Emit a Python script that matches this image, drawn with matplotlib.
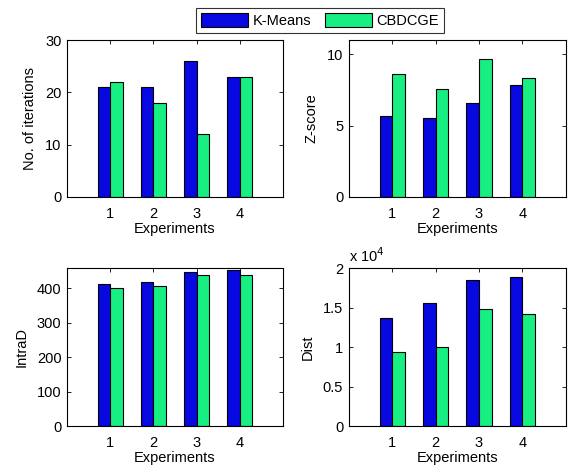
#!/usr/bin/env python3
import matplotlib
matplotlib.use("Agg")
import matplotlib.pyplot as plt
import numpy as np
from matplotlib.ticker import FuncFormatter

experiments = [1, 2, 3, 4]

iter_kmeans = [21, 21, 26, 23]
iter_cbdcge = [22, 18, 12, 23]

zscore_kmeans = [5.7, 5.55, 6.6, 7.85]
zscore_cbdcge = [8.6, 7.55, 9.7, 8.35]

intrad_kmeans = [411, 417, 446, 454]
intrad_cbdcge = [400, 406, 437, 437]

dist_kmeans = [13740, 15530, 18470, 18850]
dist_cbdcge = [9320, 10040, 14770, 14170]

BLUE = "#0808e0"
GREEN = "#18ef82"
FS = 10.5

plt.rcParams["font.family"] = ["Liberation Sans", "DejaVu Sans"]
plt.rcParams["font.size"] = FS


def bar_panel(ax, a, b, ylabel, ylim, yticks):
    x = np.array(experiments, dtype=float)
    w = 0.29
    h1 = ax.bar(x - w / 2, a, w, color=BLUE, edgecolor="black", linewidth=0.8)
    h2 = ax.bar(x + w / 2, b, w, color=GREEN, edgecolor="black", linewidth=0.8)
    ax.set_xlim(0, 5)
    ax.set_ylim(*ylim)
    ax.set_xticks(experiments)
    ax.set_yticks(yticks)
    ax.tick_params(direction="in", top=True, right=True, length=3, width=0.6,
                   labelsize=FS)
    ax.tick_params(axis="x", pad=7)
    ax.tick_params(axis="y", pad=4)
    for s in ax.spines.values():
        s.set_linewidth(0.8)
    ax.set_xlabel("Experiments", labelpad=1)
    ax.set_ylabel(ylabel, labelpad=6)
    return h1, h2


fig = plt.figure(figsize=(5.68, 4.71), dpi=100)
ax1 = fig.add_axes([0.118, 0.582, 0.380, 0.333])
ax2 = fig.add_axes([0.614, 0.582, 0.382, 0.333])
ax3 = fig.add_axes([0.118, 0.0955, 0.380, 0.335])
ax4 = fig.add_axes([0.614, 0.0955, 0.382, 0.335])

h1, h2 = bar_panel(ax1, iter_kmeans, iter_cbdcge, "No. of iterations", (0, 30), [0, 10, 20, 30])
bar_panel(ax2, zscore_kmeans, zscore_cbdcge, "Z-score", (0, 11), [0, 5, 10])
bar_panel(ax3, intrad_kmeans, intrad_cbdcge, "IntraD", (0, 458), [0, 100, 200, 300, 400])
bar_panel(ax4, dist_kmeans, dist_cbdcge, "Dist", (0, 20000), [0, 5000, 10000, 15000, 20000])
ax4.yaxis.set_major_formatter(FuncFormatter(lambda v, p: f"{v / 1e4:g}"))
ax4.text(0.0, 1.02, r"x 10$^{4}$", transform=ax4.transAxes, fontsize=FS,
         ha="left", va="bottom")

leg = fig.legend([h1, h2], ["K-Means", "CBDCGE"], loc="center",
                 bbox_to_anchor=(0.564, 0.957), ncol=2, frameon=True,
                 fancybox=False, edgecolor="black", handlelength=3.2,
                 handleheight=1.1, columnspacing=0.9, borderpad=0.35,
                 handletextpad=0.35)
leg.get_frame().set_linewidth(0.8)

fig.savefig("out.png", dpi=100)
